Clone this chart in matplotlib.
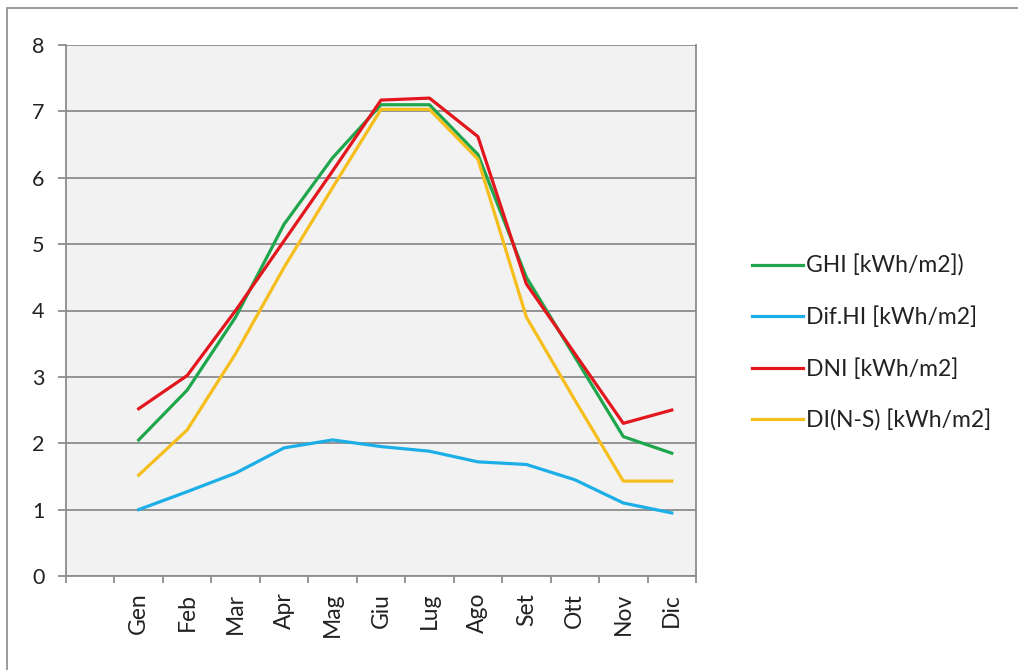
import matplotlib
matplotlib.use("Agg")
import matplotlib.pyplot as plt
from matplotlib.patches import Rectangle
import numpy as np

categories = ["", "Gen", "Feb", "Mar", "Apr", "Mag", "Giu", "Lug", "Ago", "Set", "Ott", "Nov", "Dic"]
ghi = [2.05, 2.80, 3.90, 5.30, 6.30, 7.10, 7.10, 6.35, 4.50, 3.30, 2.10, 1.85]
dif = [1.00, 1.27, 1.55, 1.93, 2.05, 1.95, 1.88, 1.72, 1.68, 1.45, 1.10, 0.95]
dni = [2.52, 3.02, 4.00, 5.05, 6.10, 7.17, 7.20, 6.62, 4.40, 3.35, 2.30, 2.50]
dins = [1.52, 2.20, 3.35, 4.65, 5.85, 7.03, 7.03, 6.28, 3.90, 2.65, 1.43, 1.43]
series_labels = ["GHI [kWh/m2])", "Dif.HI [kWh/m2]", "DNI [kWh/m2]", "DI(N-S) [kWh/m2]"]
colors = ["#1fa64c", "#1caee6", "#e3161e", "#f5be1c"]
yticks = [0, 1, 2, 3, 4, 5, 6, 7, 8]

plt.rcParams['font.family'] = ['Lato', 'DejaVu Sans']

fig = plt.figure(figsize=(10.18, 6.70), dpi=100)
fig.patches.append(Rectangle((7/1018, -0.01), 1.1, (670-8)/670 + 0.01, transform=fig.transFigure,
                             fill=False, edgecolor="#8a8a8a", linewidth=1.2))
ax = fig.add_axes([66/1018, (670-576)/670, 630/1018, (576-45)/670])
ax.set_facecolor("#f2f2f2")

x = np.arange(1, len(categories))
for vals, lab, c in zip([ghi, dif, dni, dins], series_labels, colors):
    ax.plot(x, vals, color=c, lw=2.3, label=lab, solid_joinstyle="round", zorder=3)

ax.set_xlim(-0.5, len(categories) - 0.5)
ax.set_ylim(0, 8)
ax.set_yticks(yticks)
ax.set_yticklabels([str(v) for v in yticks], fontsize=15.5, color="#222222")
ax.yaxis.grid(True, color="#8c8c8c", lw=1.3)
ax.set_axisbelow(True)

ax.set_xticks(np.arange(len(categories)))
ax.set_xticklabels(categories, rotation=90, fontsize=16.5, color="#222222")
ax.set_xticks(np.arange(-0.5, len(categories) + 0.5, 1), minor=True)
ax.tick_params(axis="x", which="major", length=0, pad=12)
ax.tick_params(axis="x", which="minor", length=5, color="#8c8c8c", width=1.3, direction="out")
ax.tick_params(axis="y", length=6, color="#8c8c8c", width=1.3, direction="out", pad=9.5)

for s in ["left", "bottom", "right"]:
    ax.spines[s].set_color("#8c8c8c")
    ax.spines[s].set_linewidth(1.3)
ax.spines["top"].set_visible(False)

leg = ax.legend(loc="center left", bbox_to_anchor=((731 - 66) / 630, (576 - 343) / 531), frameon=False,
                fontsize=16.5, handlelength=2.25, handletextpad=0.12, labelspacing=1.3)
for t in leg.get_texts():
    t.set_color("#222222")

fig.savefig("out.png", dpi=100)
